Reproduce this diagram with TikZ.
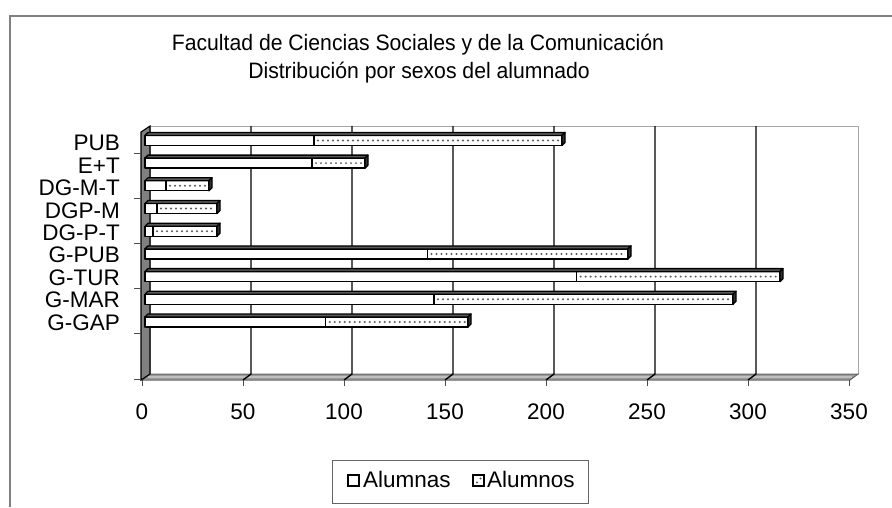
\documentclass[tikz,border=0pt]{standalone}
\usepackage{fontspec}
\setmainfont{Liberation Sans}
\newfontfamily\titlefont[FakeStretch=0.95]{Liberation Sans}
\tikzset{
  lbl/.style={font=\fontsize{22.5}{27}\selectfont, inner sep=0pt},
  catlbl/.style={lbl, anchor=base east},
  numlbl/.style={lbl, anchor=base},
  ttl/.style={font=\titlefont\fontsize{22.3}{28}\selectfont, inner sep=0pt, anchor=base},
  frameline/.style={draw=black!50, line width=1.3pt},
  gridline/.style={draw=black, line width=1.4pt},
  barline/.style={draw=black, line width=1.3pt, line join=round},
  topface/.style={barline, fill=black!65},
  sideface/.style={barline, fill=black!80},
  dotmark/.style={fill=black!65, draw=none},
}
\begin{document}
\begin{tikzpicture}[x=1pt,y=-1pt]
\useasboundingbox (0,0) rectangle (892,507);
% outer frame
\draw[frameline] (10,507) -- (10,16) -- (892,16);
% title
\node[ttl] (t1) at (418,50) {Facultad de Ciencias Sociales y de la Comunicación};
\node[ttl] (t2) at (419,78) {Distribución por sexos del alumnado};
% back wall
\draw[draw=black!35, fill=white, line width=1pt] (150,126) rectangle (858,374);
% floor
\filldraw[fill=black!40, draw=black!60, line width=1pt] (142,380) -- (150,374) -- (858,374) -- (850,380) -- cycle;
\draw[black!25, line width=1.5pt] (148,377) -- (852,377);
% gridlines
\foreach \k in {1,...,6}{
  \draw[gridline] (150+101*\k,126) -- (150+101*\k,374) -- (142+101*\k,380);
}
% left wall
\filldraw[fill=black!50, draw=black, line width=1.1pt] (141,380) -- (141,132) -- (150,126) -- (150,374) -- cycle;
% axis ticks
\foreach \k in {0,...,7}{
  \draw[black!70, line width=1pt] (142+101*\k,380) -- ++(0,6);
}
\foreach \j in {0,...,5}{
  \draw[black!70, line width=1pt] (134,379-45.2*\j) -- (141,379-45.2*\j);
}
% value labels
\foreach \v [count=\k from 0] in {0,50,100,150,200,250,300,350}{
  \node[numlbl] (v\k) at (142+101*\k,419) {\v};
}
% category labels
\foreach \c [count=\i from 0] in {G-GAP,G-MAR,G-TUR,G-PUB,DG-P-T,DGP-M,DG-M-T,E+T,PUB}{
  \node[catlbl] (c\i) at (120,330-22.4*\i) {\c};
}
% bars: index / end of Alumnas / end of total
\foreach \i/\w/\e in {0/325.7/468, 1/434/733, 2/576.7/780, 3/427.5/628, 4/153/217, 5/157/217, 6/166/209, 7/312/365, 8/314/562}{
  \pgfmathsetmacro\yc{322-22.7*\i}
  \pgfmathsetmacro\yt{\yc-5}
  \pgfmathsetmacro\yb{\yc+5}
  \filldraw[barline, fill=white] (145,\yt) rectangle (\w,\yb);
  \filldraw[barline, fill=white] (\w,\yt) rectangle (\e,\yb);
  \pgfmathsetmacro\xs{\w+4}
  \pgfmathsetmacro\xn{\w+9}
  \pgfmathsetmacro\xe{\e-3}
  \foreach \x in {\xs,\xn,...,\xe}{
    \fill[dotmark] (\x,\yc) circle (1.1);
  }
  \filldraw[topface] (145,\yt) -- (148,\yt-3) -- (\e+3,\yt-3) -- (\e,\yt) -- cycle;
  \filldraw[sideface] (\e,\yt) -- (\e+3,\yt-3) -- (\e+3,\yb-3) -- (\e,\yb) -- cycle;
}
% legend
\draw[draw=black!60, line width=1pt] (332,460) rectangle (588,503);
\draw[black, line width=2pt, fill=white] (348,475) rectangle (359,486);
\node[lbl, anchor=base west] (la) at (363,487) {Alumnas};
\draw[black, line width=2pt, fill=white] (473,475) rectangle (484,486);
\fill[dotmark] (480.5,478.5) circle (1.1);
\fill[dotmark] (477,482.5) circle (1.1);
\node[lbl, anchor=base west] (lo) at (487,487) {Alumnos};
\end{tikzpicture}
\end{document}
